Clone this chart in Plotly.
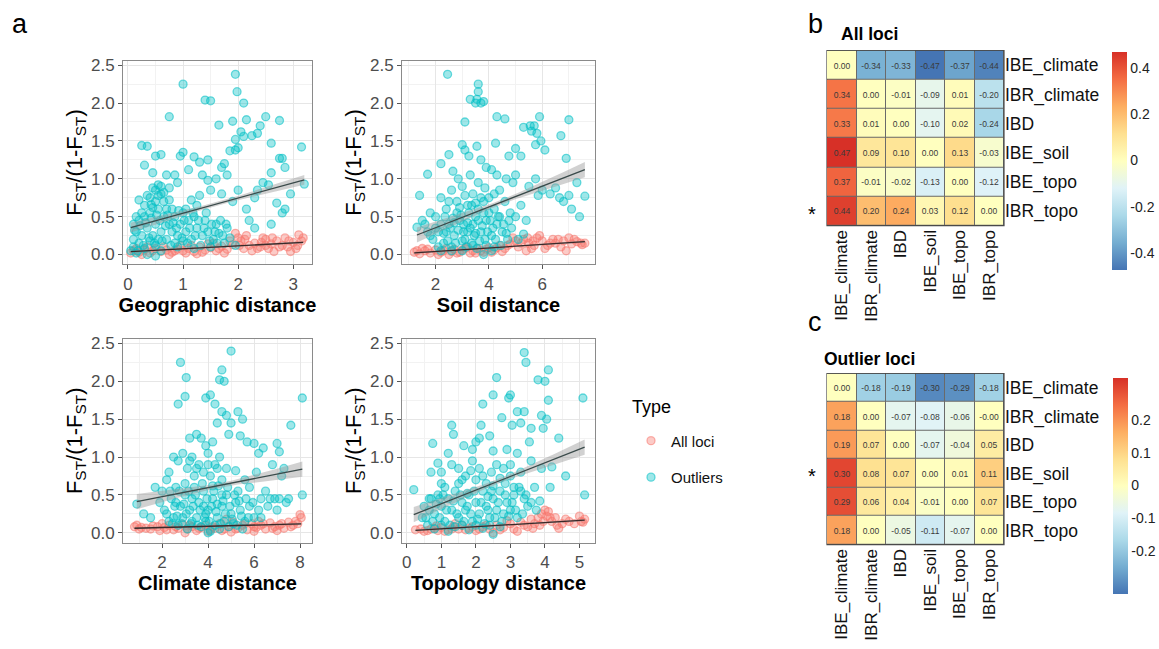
import numpy as np
import plotly.graph_objects as go

# ---------------- data ----------------
geo_out_x = [1.0,1.95,1.98,1.4,1.5,2.1,0.75,1.65,1.9,2.15,2.5,2.75,2.4,2.05,2.1,2.25,2.35,1.95,2.0,1.95,1.85,2.6,3.15,0.25,0.35,0.3,0.5,0.45,0.6,0.7,0.85,0.95,1.0,1.1,1.2,1.3,1.45,1.35,1.45,1.6,1.75,1.7,1.8,2.75,2.85,2.8,2.6,2.45,2.55,3.2,2.95,2.85,2.8,2.7,2.3,2.35,2.6,2.2,2.3,2.0,2.15,1.9,1.7,1.5,1.3,1.15,0.9,0.75,0.55,0.5,0.6,0.4,0.2,0.3,0.65,0.8,1.0,1.2,1.4,1.6,1.8,0.1,0.15,0.2,0.3,0.35,0.4,0.45,0.5,0.55,0.6,0.65,0.7,0.75,0.8,0.85,0.9,0.95,1.05,1.1,1.15,1.25,1.35,1.45,1.55,1.65,1.75,1.85,1.95,0.1,0.2,0.3,0.4,0.5,0.6,0.9,1.2,1.5,0.25,0.55,0.85,1.0,0.05,0.15,0.35,0.5,0.7,0.45,1.05,1.25,
             0.1,0.12,0.18,0.22,0.28,0.32,0.38,0.42,0.48,0.52,0.58,0.62,0.68,0.72,0.78,0.82,0.88,0.92,0.98,1.02,1.08,1.12,1.18,1.22,1.28,1.32,1.38,1.42,1.48,1.52,1.58,1.62,1.68,1.72,1.78,0.5,0.55,0.45,0.6,0.65,0.42,0.35,0.25,0.15,0.75]
geo_out_y = [2.25,2.38,2.15,2.04,2.03,2.0,1.82,1.71,1.76,1.78,1.82,1.77,1.7,1.62,1.56,1.57,1.6,1.52,1.41,1.38,1.37,1.47,1.42,1.44,1.43,1.18,1.3,1.08,1.32,1.05,1.05,1.3,1.35,1.12,1.29,1.22,1.25,1.05,0.98,1.0,1.2,1.15,1.05,1.27,1.15,1.27,1.08,0.95,0.92,0.93,0.8,0.6,0.55,0.68,0.75,0.85,0.4,0.45,0.35,0.85,0.6,0.7,0.8,0.85,0.78,0.72,0.95,0.88,0.92,0.85,0.8,0.75,0.72,0.65,0.7,0.6,0.55,0.5,0.45,0.4,0.35,0.4,0.3,0.45,0.5,0.35,0.55,0.25,0.4,0.6,0.3,0.5,0.2,0.4,0.3,0.5,0.25,0.4,0.3,0.45,0.2,0.35,0.25,0.3,0.2,0.28,0.15,0.22,0.12,0.1,0.15,0.08,0.18,0.12,0.05,0.1,0.08,0.1,0.25,0.2,0.15,0.18,0.05,0.02,0.0,-0.02,0.6,0.62,0.6,0.65,
             0.2,0.32,0.05,0.38,0.12,0.42,0.22,0.48,0.15,0.52,0.45,0.18,0.38,0.52,0.12,0.42,0.35,0.58,0.22,0.45,0.15,0.35,0.55,0.25,0.45,0.12,0.35,0.55,0.18,0.4,0.3,0.15,0.45,0.25,0.4,0.7,0.78,0.88,0.9,0.82,0.66,0.78,0.55,0.5,0.72]
geo_all_x = [0.05,0.1,0.2,0.3,0.4,0.5,0.6,0.7,0.8,0.9,1.0,1.1,1.2,1.3,1.4,1.5,1.6,1.7,1.8,1.9,2.0,1.95,2.05,2.1,2.2,2.3,2.4,2.5,2.55,2.6,2.7,2.8,2.85,2.9,3.0,3.1,3.15,3.05,2.25,1.75,1.25,0.75,0.35,0.15,2.65,2.95,2.15,2.45,0.95,1.55,
             0.25,0.45,0.65,0.85,1.05,1.15,1.35,1.45,1.65,1.85,2.02,2.12,2.35,2.5,2.62,2.75,2.92,3.08,3.18,2.42]
geo_all_y = [0.02,0.05,0.03,0.06,0.02,0.08,0.04,0.06,0.03,0.07,0.05,0.08,0.04,0.1,0.06,0.09,0.05,0.11,0.07,0.13,0.22,0.28,0.18,0.08,0.12,0.15,0.1,0.2,0.08,0.14,0.18,0.12,0.22,0.1,0.16,0.26,0.18,0.08,0.05,0.02,0.01,0.0,0.1,0.08,0.04,0.04,0.25,0.22,0.12,0.15,
             0.0,0.05,0.1,0.05,0.02,0.12,0.03,0.14,0.08,0.18,0.12,0.2,0.08,0.12,0.22,0.1,0.18,0.12,0.22,0.16]

soil_out_x = [2.45,3.6,3.6,3.55,3.5,3.7,3.8,3.3,4.3,4.6,5.9,5.55,5.3,5.7,5.6,5.8,5.95,6.1,5.75,7.0,6.7,3.1,3.0,3.1,3.25,3.55,4.25,4.75,5.0,5.2,6.9,1.7,2.2,2.5,2.65,2.85,3.3,3.7,3.9,4.1,4.3,4.65,4.9,5.0,5.5,5.75,6.0,6.3,6.5,6.8,7.0,7.3,7.6,7.4,7.1,6.65,5.85,1.4,1.8,1.3,1.5,1.7,2.0,2.2,2.4,2.6,2.8,3.0,3.2,3.4,3.6,3.8,4.0,4.2,4.4,4.6,4.8,5.0,5.2,5.4,1.9,2.1,2.3,2.5,2.7,2.9,3.1,3.3,3.5,3.7,3.9,4.1,4.3,4.5,4.7,2.2,2.6,3.0,3.4,3.8,4.2,2.4,2.8,3.2,3.6,4.0,4.4,2.0,3.45,3.85,2.65,3.05,4.85,5.1,5.3,
              2.1,2.2,2.3,2.35,2.45,2.55,2.6,2.7,2.75,2.85,2.95,3.0,3.05,3.15,3.2,3.25,3.35,3.4,3.5,3.55,3.6,3.65,3.75,3.8,3.9,3.95,4.05,4.1,4.15,4.25,4.35,4.45,4.55,4.65,4.75,3.35,3.7,3.1,2.9,4.2,3.85,1.6,1.8,2.5,3.5]
soil_out_y = [2.38,2.25,2.15,2.05,2.0,2.0,2.02,2.05,1.82,1.79,1.82,1.7,1.68,1.7,1.63,1.6,1.5,1.38,1.45,1.78,1.57,1.75,1.45,1.38,1.3,1.43,1.47,1.3,1.4,1.3,1.27,1.06,1.2,1.32,1.1,1.0,1.05,1.25,1.15,1.12,1.05,1.0,0.95,1.05,0.9,1.0,0.85,0.8,0.88,0.7,0.78,0.95,0.77,0.5,0.6,0.75,0.78,0.78,0.55,0.36,0.45,0.3,0.5,0.75,0.6,0.85,0.7,0.9,0.65,0.8,0.95,0.7,0.75,0.6,0.85,0.7,0.55,0.5,0.65,0.45,0.2,0.3,0.15,0.4,0.25,0.45,0.2,0.35,0.5,0.3,0.45,0.25,0.4,0.3,0.2,0.05,0.1,0.05,0.12,0.0,0.1,0.3,0.55,0.42,0.6,0.55,0.5,0.35,0.25,0.2,0.48,0.3,0.35,0.2,0.27,
              0.1,0.4,0.28,0.5,0.18,0.35,0.05,0.42,0.15,0.32,0.52,0.18,0.4,0.1,0.3,0.55,0.15,0.4,0.28,0.08,0.45,0.18,0.38,0.55,0.12,0.3,0.45,0.05,0.35,0.2,0.5,0.12,0.4,0.28,0.45,0.65,0.75,0.78,0.62,0.8,0.88,0.4,0.25,0.7,0.68]
soil_all_x = [1.2,1.4,1.6,1.8,2.0,2.2,2.4,2.6,2.8,3.0,3.2,3.4,3.6,3.8,4.0,4.2,4.4,4.6,4.8,5.0,5.1,5.3,5.5,5.6,5.8,5.9,6.0,6.2,6.4,6.5,6.7,6.8,7.0,7.1,7.3,7.5,7.6,1.5,2.5,3.5,4.5,5.4,6.1,6.9,4.9,5.7,
              1.3,1.7,2.1,2.3,2.7,2.9,3.1,3.3,3.7,3.9,4.1,4.3,4.7,5.2,5.45,5.65,6.3,6.6,7.2,7.45]
soil_all_y = [0.03,0.01,0.05,0.02,0.06,0.03,0.08,0.04,0.02,0.06,0.1,0.05,0.08,0.03,0.09,0.06,0.12,0.08,0.14,0.18,0.1,0.2,0.15,0.08,0.22,0.25,0.18,0.12,0.2,0.15,0.1,0.18,0.22,0.14,0.17,0.13,0.15,0.08,0.0,0.02,0.04,0.05,0.08,0.05,0.22,0.12,
              0.05,0.07,0.0,0.05,0.07,0.03,0.08,0.02,0.05,0.07,0.03,0.09,0.12,0.15,0.22,0.18,0.15,0.2,0.2,0.15]

clim_out_x = [2.8,3.05,5.0,4.6,4.5,4.7,2.7,3.0,3.9,4.1,4.3,4.6,4.8,5.0,4.4,4.9,5.3,5.5,5.4,5.7,6.0,6.2,6.4,7.0,7.1,7.6,8.1,8.1,3.2,3.5,3.7,3.9,4.0,4.2,4.5,2.3,2.5,2.7,2.9,3.1,3.3,3.6,3.8,4.1,4.3,4.6,4.8,5.2,5.6,5.8,6.1,6.5,6.8,7.2,7.5,7.3,6.9,7.0,6.3,1.2,1.7,2.0,1.9,2.1,2.2,2.4,2.6,2.8,3.0,3.2,3.4,3.6,3.8,4.0,4.2,4.4,4.6,4.8,5.0,5.2,5.4,5.6,5.8,6.0,6.2,2.3,2.5,2.7,2.9,3.1,3.3,3.5,3.7,3.9,4.1,4.3,4.5,4.7,4.9,5.1,5.5,3.0,3.4,3.8,4.2,4.6,2.6,3.3,3.9,4.4,5.3,1.5,4.0,0.9,
              2.2,2.35,2.45,2.55,2.65,2.75,2.85,2.95,3.05,3.15,3.25,3.35,3.45,3.55,3.65,3.75,3.85,3.95,4.05,4.15,4.25,4.35,4.45,4.55,4.65,4.75,4.85,4.95,5.05,5.15,5.25,5.35,5.45,5.65,5.75,5.95,6.3,6.6,6.7,7.1,7.4,3.5,4.0,3.2,4.4]
clim_out_y = [2.25,2.05,2.4,2.15,2.02,2.0,1.7,1.8,1.78,1.82,1.7,1.6,1.55,1.45,1.45,1.3,1.6,1.5,1.28,1.2,1.18,1.05,1.12,1.18,1.07,1.42,1.78,0.5,1.25,1.3,1.25,1.15,1.05,1.2,1.0,0.8,1.0,0.95,1.05,0.85,1.0,0.9,0.8,0.75,0.9,0.7,0.85,0.82,0.7,0.6,0.8,0.55,0.9,0.75,0.45,0.85,0.45,0.3,0.45,0.25,0.6,0.55,0.4,0.3,0.7,0.45,0.6,0.35,0.5,0.3,0.6,0.4,0.55,0.3,0.45,0.2,0.35,0.5,0.25,0.4,0.3,0.15,0.35,0.2,0.3,0.15,0.2,0.1,0.2,0.05,0.15,0.2,0.08,0.15,0.02,0.1,0.05,0.15,0.08,0.12,0.05,0.65,0.75,0.35,0.62,0.5,0.4,0.45,0.25,0.38,0.55,0.2,0.0,0.38,
              0.25,0.55,0.12,0.35,0.22,0.55,0.12,0.38,0.25,0.55,0.12,0.35,0.5,0.1,0.3,0.65,0.2,0.45,0.15,0.35,0.55,0.28,0.62,0.12,0.42,0.25,0.6,0.35,0.18,0.5,0.1,0.42,0.22,0.45,0.2,0.4,0.2,0.35,0.45,0.45,0.4,0.85,0.9,0.95,0.85]
clim_all_x = [0.8,1.0,1.3,1.6,1.9,2.1,2.3,2.5,2.7,2.9,3.1,3.3,3.5,3.7,3.9,4.1,4.3,4.5,4.7,4.9,5.1,5.3,5.5,5.7,5.9,6.1,6.3,6.5,6.7,6.9,7.1,7.3,7.5,7.7,7.9,8.05,8.0,3.0,4.0,5.0,6.0,7.0,2.0,6.2,4.8,
              0.9,1.1,1.5,1.8,2.2,2.6,3.2,3.6,4.2,4.6,5.2,5.6,6.0,6.4,6.8,7.2,7.6,7.8]
clim_all_y = [0.08,0.05,0.06,0.09,0.03,0.07,0.1,0.04,0.06,0.11,0.05,0.08,0.03,0.07,0.1,0.04,0.06,0.12,0.05,0.08,0.14,0.06,0.1,0.04,0.12,0.07,0.1,0.05,0.13,0.08,0.1,0.06,0.14,0.1,0.12,0.2,0.24,0.0,0.02,0.01,0.02,0.03,0.12,0.15,0.18,
              0.1,0.07,0.05,0.08,0.04,0.08,0.1,0.06,0.08,0.03,0.05,0.12,0.08,0.12,0.06,0.12,0.08,0.15]

topo_out_x = [3.4,3.45,2.6,4.1,3.8,4.0,2.2,2.5,2.95,3.0,5.1,4.1,3.2,3.4,3.3,3.6,3.9,4.05,3.95,4.4,3.05,2.75,2.15,1.3,1.35,0.75,2.1,2.0,2.4,1.9,2.5,2.9,3.2,3.55,1.65,1.2,0.9,0.7,1.0,1.3,1.5,1.7,1.9,2.1,2.3,2.6,2.8,3.0,3.3,3.6,3.9,4.2,4.6,4.15,3.85,5.15,0.2,0.5,0.7,0.8,0.9,1.0,1.1,1.2,1.3,1.4,1.5,1.6,1.7,1.8,1.9,2.0,2.1,2.2,2.3,2.4,2.5,2.6,2.7,2.8,2.9,3.0,3.1,3.2,3.4,3.5,0.6,0.8,1.0,1.2,1.4,1.6,1.8,2.0,2.2,2.4,2.5,2.7,1.1,1.5,2.0,2.5,3.1,0.95,1.75,2.35,2.85,3.3,0.65,
              0.55,0.65,0.75,0.85,0.95,1.05,1.15,1.25,1.35,1.45,1.55,1.65,1.75,1.85,1.95,2.05,2.15,2.25,2.35,2.45,2.55,2.65,2.75,2.85,2.95,3.05,3.15,3.25,3.35,3.45,3.6,3.7,3.75,1.6,2.2,2.7,1.0,1.85,2.45,3.0,0.45]
topo_out_y = [2.38,2.25,2.05,2.15,2.02,2.0,1.7,1.82,1.78,1.82,1.78,1.75,1.6,1.6,1.45,1.38,1.55,1.5,1.38,1.25,1.42,1.52,1.42,1.42,1.3,1.18,1.25,1.2,1.28,1.1,1.08,1.1,1.05,1.2,1.15,1.05,0.92,0.8,0.8,0.9,0.85,0.75,0.95,0.85,0.65,0.9,0.85,0.75,0.8,0.95,0.85,0.87,0.75,0.6,0.42,0.5,0.57,0.35,0.45,0.25,0.5,0.35,0.15,0.45,0.3,0.55,0.2,0.4,0.3,0.5,0.15,0.4,0.25,0.55,0.35,0.2,0.45,0.3,0.55,0.25,0.4,0.3,0.5,0.2,0.45,0.35,0.1,0.05,0.1,0.02,0.08,0.1,0.04,0.1,0.06,0.1,-0.02,0.08,0.6,0.65,0.7,0.62,0.6,0.45,0.52,0.48,0.65,0.55,0.3,
              0.2,0.45,0.15,0.38,0.2,0.5,0.3,0.1,0.42,0.25,0.5,0.15,0.35,0.25,0.55,0.18,0.4,0.12,0.3,0.55,0.2,0.4,0.15,0.5,0.22,0.4,0.3,0.6,0.25,0.5,0.4,0.6,0.3,0.7,0.75,0.72,0.65,0.82,0.8,0.9,0.2]
topo_all_x = [0.25,0.5,0.7,0.9,1.0,1.2,1.35,1.5,1.6,1.8,2.0,2.2,2.4,2.6,2.8,3.0,3.1,3.3,3.5,3.6,3.7,3.8,3.9,4.0,4.05,4.1,4.2,4.3,4.5,4.7,5.0,5.1,5.15,1.4,2.5,3.2,4.4,0.85,2.9,3.85,
              0.4,0.6,0.8,1.1,1.3,1.7,1.9,2.1,2.3,2.7,3.4,3.65,3.95,4.15,4.35,4.6,4.85,5.05]
topo_all_y = [0.04,0.02,0.05,0.03,0.07,0.04,0.08,0.05,0.1,0.06,0.03,0.08,0.05,0.1,0.07,0.12,0.05,0.14,0.08,0.18,0.12,0.2,0.25,0.3,0.22,0.28,0.15,0.2,0.12,0.15,0.22,0.14,0.18,0.12,0.0,0.02,0.06,0.09,0.16,0.1,
              0.05,0.03,0.06,0.02,0.05,0.04,0.08,0.05,0.1,0.04,0.1,0.06,0.15,0.2,0.1,0.18,0.12,0.15]

# fitted lm: [intercept, slope, ci half-width centre, ci half-width ends]
fit_geo_out = [0.346, 0.200, 0.025, 0.065]
fit_geo_all = [0.037, 0.039, 0.006, 0.015]
fit_soil_out = [0.080, 0.137, 0.030, 0.100]
fit_soil_all = [-0.005, 0.023, 0.006, 0.015]
fit_clim_out = [0.358, 0.0595, 0.030, 0.100]
fit_clim_all = [0.054, 0.0081, 0.006, 0.015]
fit_topo_out = [0.204, 0.180, 0.030, 0.100]
fit_topo_all = [0.024, 0.028, 0.006, 0.015]

xlabels = ["Geographic distance", "Soil distance", "Climate distance", "Topology distance"]

mat_labels = ["IBE_climate", "IBR_climate", "IBD", "IBE_soil", "IBE_topo", "IBR_topo"]
all_loci_r = [
    [0.00, -0.34, -0.33, -0.47, -0.37, -0.44],
    [0.34, 0.00, -0.01, -0.09, 0.01, -0.20],
    [0.33, 0.01, 0.00, -0.10, 0.02, -0.24],
    [0.47, 0.09, 0.10, 0.00, 0.13, -0.03],
    [0.37, -0.01, -0.02, -0.13, 0.00, -0.12],
    [0.44, 0.20, 0.24, 0.03, 0.12, 0.00],
]
outlier_loci_r = [
    [0.00, -0.18, -0.19, -0.30, -0.29, -0.18],
    [0.18, 0.00, -0.07, -0.08, -0.06, -0.0],
    [0.19, 0.07, 0.00, -0.07, -0.04, 0.05],
    [0.30, 0.08, 0.07, 0.00, 0.01, 0.11],
    [0.29, 0.06, 0.04, -0.01, 0.00, 0.07],
    [0.18, 0.00, -0.05, -0.11, -0.07, 0.00],
]
all_loci_lim = 0.47
outlier_loci_lim = 0.33
all_loci_star = "IBR_topo"
outlier_loci_star = "IBE_soil"

# ---------------- figure ----------------
W, H = 1159, 649
def px(x): return x / W
def py(y): return 1 - y / H

FONT = "Liberation Sans, Arial, Helvetica, sans-serif"
RED = (248, 118, 109)
TEAL = (0, 191, 196)

fig = go.Figure()

panels = [
    (geo_out_x, geo_out_y, geo_all_x, geo_all_y, fit_geo_out, fit_geo_all, [-0.09, 3.34], 1, 0.5, (123, 312, 57, 262)),
    (soil_out_x, soil_out_y, soil_all_x, soil_all_y, fit_soil_out, fit_soil_all, [0.74, 7.98], 2, 1, (402, 595, 57, 262)),
    (clim_out_x, clim_out_y, clim_all_x, clim_all_y, fit_clim_out, fit_clim_all, [0.30, 8.52], 2, 1, (123, 312, 337, 542)),
    (topo_out_x, topo_out_y, topo_all_x, topo_all_y, fit_topo_out, fit_topo_all, [-0.14, 5.45], 1, 0.5, (402, 595, 337, 542)),
]

def rgba(c, a):
    return f"rgba({c[0]},{c[1]},{c[2]},{a})"

for i, (ox, oy, ax_, ay, fo, fa, xr, dt, mdt, box) in enumerate(panels):
    n = i + 1
    xa = "x" if n == 1 else f"x{n}"
    ya = "y" if n == 1 else f"y{n}"
    for xs, ys, col, name, show in [(ax_, ay, RED, "All loci", i == 0), (ox, oy, TEAL, "Outliers", i == 0)]:
        fig.add_trace(go.Scatter(
            x=xs, y=ys, mode="markers", xaxis=xa, yaxis=ya, name=name,
            legendgroup=name, showlegend=show,
            marker=dict(size=8, color=rgba(col, 0.38), line=dict(color=rgba(col, 0.55), width=1.3)),
        ))
    for xs, fit, lc in [(ox, fo, "#3a4a4a"), (ax_, fa, "#3a2a2a")]:
        x0, x1 = min(xs), max(xs)
        xx = np.linspace(x0, x1, 60)
        yy = fit[0] + fit[1] * xx
        u = (xx - (x0 + x1) / 2) / ((x1 - x0) / 2)
        hw = np.sqrt(fit[2] ** 2 + (fit[3] ** 2 - fit[2] ** 2) * u ** 2)
        fig.add_trace(go.Scatter(
            x=np.concatenate([xx, xx[::-1]]), y=np.concatenate([yy + hw, (yy - hw)[::-1]]),
            fill="toself", fillcolor="rgba(153,153,153,0.45)", line=dict(width=0),
            mode="lines", xaxis=xa, yaxis=ya, showlegend=False, hoverinfo="skip"))
        fig.add_trace(go.Scatter(x=xx, y=yy, mode="lines", xaxis=xa, yaxis=ya,
                                 line=dict(color=lc, width=1.3), showlegend=False))
    l, r, t, b = box
    axcommon = dict(showline=True, mirror=True, linecolor="#8a8a8a", linewidth=1,
                    gridcolor="#e6e6e6", gridwidth=1, zeroline=False,
                    ticks="outside", ticklen=4, tickcolor="#555", tickwidth=1,
                    tickfont=dict(family=FONT, size=17, color="#4d4d4d"))
    fig.layout[f"xaxis{'' if n == 1 else n}"] = dict(
        axcommon, domain=[px(l), px(r)], anchor=ya, range=xr, dtick=dt, tick0=0,
        minor=dict(dtick=mdt, tick0=0, showgrid=True, gridcolor="#f2f2f2", ticks=""),
        title=dict(text=f"<b>{xlabels[i]}</b>", font=dict(family=FONT, size=20, color="#000"), standoff=4))
    fig.layout[f"yaxis{'' if n == 1 else n}"] = dict(
        axcommon, domain=[py(b), py(t)], anchor=xa, range=[-0.13, 2.56], dtick=0.5, tick0=0,
        tickformat=".1f",
        minor=dict(dtick=0.25, tick0=0, showgrid=True, gridcolor="#f2f2f2", ticks=""),
        title=dict(text="F<sub>ST</sub>/(1-F<sub>ST</sub>)", font=dict(family=FONT, size=22, color="#000"), standoff=2))

scale = [[0, "#4575b4"], [0.125, "#74add1"], [0.25, "#abd9e9"], [0.375, "#e0f3f8"], [0.5, "#ffffbf"],
         [0.625, "#fee090"], [0.75, "#fdae61"], [0.875, "#f46d43"], [1, "#d73027"]]

heat = [
    (all_loci_r, all_loci_lim, (827, 1004, 47, 223), (1112, 48, 267), [0.4, 0.2, 0, -0.2, -0.4], "All loci", 30, all_loci_star, "b", 20),
    (outlier_loci_r, outlier_loci_lim, (827, 1004, 372, 544), (1113, 376, 593), [0.2, 0.1, 0, -0.1, -0.2], "Outlier loci", 357, outlier_loci_star, "c", 320),
]
for j, (mat, lim, box, cb, tv, title, ty, star, letter, ly) in enumerate(heat):
    n = 5 + j
    l, r, t, b = box
    txt = [[f"{v:.2f}" for v in row] for row in mat]
    fig.add_trace(go.Heatmap(
        z=mat, x=mat_labels, y=mat_labels, text=txt, texttemplate="%{text}",
        textfont=dict(family=FONT, size=8.5, color="#3a3a3a"),
        colorscale=scale, zmin=-lim, zmax=lim, xgap=1, ygap=1,
        xaxis=f"x{n}", yaxis=f"y{n}", showscale=True,
        colorbar=dict(x=px(cb[0]), xanchor="left", xpad=0, ypad=0,
                      y=py((cb[1] + cb[2]) / 2), yanchor="middle",
                      len=(cb[2] - cb[1]) / H, lenmode="fraction", thickness=15, outlinewidth=0,
                      tickvals=tv, ticktext=[f"{v:g}" for v in tv], ticks="",
                      tickfont=dict(family=FONT, size=14, color="#222")),
    ))
    fig.layout[f"xaxis{n}"] = dict(domain=[px(l), px(r)], anchor=f"y{n}", side="bottom",
                                   tickangle=-90, showgrid=False, zeroline=False, showline=False,
                                   ticks="", tickfont=dict(family=FONT, size=17, color="#111"))
    fig.layout[f"yaxis{n}"] = dict(domain=[py(b), py(t)], anchor=f"x{n}", side="right",
                                   autorange="reversed", showgrid=False, zeroline=False, showline=False,
                                   ticks="", tickfont=dict(family=FONT, size=17.5, color="#111"))
    fig.add_shape(type="rect", xref=f"x{n} domain", yref=f"y{n} domain", x0=0, x1=1, y0=0, y1=1,
                  fillcolor="#6a6a6a", line=dict(color="#4a4a4a", width=1.2), layer="below")
    fig.add_annotation(text=f"<b>{title}</b>", x=px(869), y=py(ty), xref="paper", yref="paper",
                       xanchor="center", yanchor="middle",
                       showarrow=False, font=dict(family=FONT, size=17.5, color="#000"))
    fig.add_annotation(text="*", x=px(812), y=mat_labels.index(star), xref="paper", yref=f"y{n}",
                       xanchor="center", yanchor="middle",
                       showarrow=False, font=dict(family=FONT, size=20, color="#000"), yshift=-3)
    fig.add_annotation(text=letter, x=px(815), y=py(ly), xref="paper", yref="paper",
                       xanchor="center", yanchor="middle",
                       showarrow=False, font=dict(family=FONT, size=27, color="#000"))

fig.add_annotation(text="a", x=px(20), y=py(20), xref="paper", yref="paper",
                   xanchor="center", yanchor="middle",
                   showarrow=False, font=dict(family=FONT, size=27, color="#000"))
fig.add_annotation(text="Type", x=px(630), y=py(405), xref="paper", yref="paper",
                   xanchor="left", yanchor="middle",
                   showarrow=False, font=dict(family=FONT, size=18, color="#000"))

fig.update_layout(
    width=W, height=H, margin=dict(l=0, r=0, t=0, b=0),
    paper_bgcolor="white", plot_bgcolor="white",
    font=dict(family=FONT),
    legend=dict(x=px(631), y=py(423), xanchor="left", yanchor="top",
                font=dict(family=FONT, size=15, color="#111"), tracegroupgap=14,
                bgcolor="rgba(0,0,0,0)"),
)

fig.write_html("out.html", config={"displayModeBar": False},
               post_script="document.body.style.margin='0';document.body.style.overflow='hidden';")
